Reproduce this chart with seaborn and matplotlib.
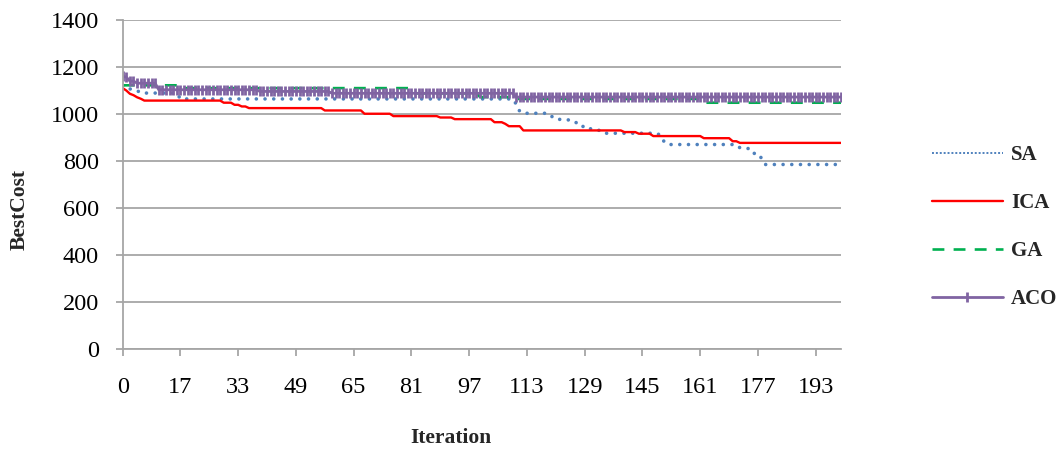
import numpy as np
import pandas as pd
import matplotlib
matplotlib.use("Agg")
import matplotlib.pyplot as plt
import seaborn as sns

# ---------------- data ----------------
iterations = list(range(200))
tick_positions = [0, 16, 32, 48, 64, 80, 96, 112, 128, 144, 160, 176, 192]
tick_labels = ["0", "17", "33", "49", "65", "81", "97", "113", "129", "145", "161", "177", "193"]
y_ticks = [0, 200, 400, 600, 800, 1000, 1200, 1400]

sa = ([1120] + [1107] * 2 + [1100] * 2 + [1089] * 11 + [1064] * 93 + [1043] + [1011]
      + [1003] * 7 + [989] * 2 + [977] * 4 + [972] * 2 + [958] * 2 + [937] * 4 + [930] * 2
      + [918] * 15 + [908] + [882] + [870] * 20 + [856] * 2 + [853] * 2 + [832] * 2 + [811]
      + [785] * 22)

ica = ([1110, 1100, 1086, 1080, 1071, 1065] + [1057] * 22 + [1048] * 3 + [1039] * 2
       + [1032] * 2 + [1025] * 21 + [1015] * 11 + [1001] * 8 + [991] * 13 + [985] * 4
       + [978] * 11 + [965] * 3 + [958] + [948] * 4 + [930] * 28 + [923] * 4 + [916] * 4
       + [906] * 14 + [897] * 8 + [884] * 2 + [877] * 29)

ga = ([1122] * 17 + [1110] * 64 + [1088] * 18 + [1072] * 10 + [1064] * 52 + [1048] * 39)

aco = ([1160, 1157] + [1140] * 2 + [1131] * 6 + [1103] * 28 + [1096] * 20 + [1088] * 51
       + [1072] * 91)

series_names = ["SA", "ICA", "GA", "ACO"]
series_values = [sa, ica, ga, aco]
for v in series_values:
    assert len(v) == len(iterations)

# ---------------- styling ----------------
sns.set_theme(style="white")
plt.rcParams["font.family"] = ["Liberation Serif", "DejaVu Serif"]

colors = {"SA": "#4f81bd", "ICA": "#ff0000", "GA": "#00b050", "ACO": "#8064a2"}
grid_color = "#a6a6a6"

fig = plt.figure(figsize=(10.62, 4.51), dpi=100)
ax = fig.add_axes([0.1155, 0.2262, 0.6764, 0.7295])

for name, vals in zip(series_names, series_values):
    df = pd.DataFrame({"Iteration": iterations, "BestCost": vals})
    kw = dict(color=colors[name], label=name, ax=ax)
    if name == "SA":
        sns.lineplot(data=df, x="Iteration", y="BestCost", linewidth=2.6,
                     linestyle=(0, (0.01, 2.4)), **kw)
        ax.lines[-1].set_dash_capstyle("round")
    elif name == "ICA":
        sns.lineplot(data=df, x="Iteration", y="BestCost", linewidth=1.7, **kw)
    elif name == "GA":
        sns.lineplot(data=df, x="Iteration", y="BestCost", linewidth=1.9,
                     linestyle=(0, (4.5, 3.5)), **kw)
    else:
        sns.lineplot(data=df, x="Iteration", y="BestCost", linewidth=2.0,
                     marker="|", markersize=6.5, markeredgewidth=2.0,
                     markeredgecolor=colors[name], **kw)

ax.set_xlim(0, 199)
ax.set_ylim(0, 1400)
ax.set_yticks(y_ticks)
ax.set_yticklabels([str(t) for t in y_ticks])
ax.set_xticks(tick_positions)
ax.set_xticklabels(tick_labels)

ax.yaxis.grid(True, color=grid_color, linewidth=1.3)
ax.xaxis.grid(False)
ax.set_axisbelow(True)
for s in ["top", "right"]:
    ax.spines[s].set_visible(False)
for s in ["left", "bottom"]:
    ax.spines[s].set_color(grid_color)
    ax.spines[s].set_linewidth(1.3)

ax.tick_params(axis="y", which="major", left=True, length=5, width=1.3, color=grid_color,
               pad=12, labelsize=17.5, labelcolor="black")
ax.tick_params(axis="x", which="major", bottom=True, length=5, width=1.3, color=grid_color,
               pad=15, labelsize=17.5, labelcolor="black")

ax.set_xlabel("Iteration", fontsize=15.5, fontweight="bold")
ax.set_ylabel("BestCost", fontsize=15.5, fontweight="bold")
ax.xaxis.set_label_coords(0.457, -0.27)
ax.yaxis.set_label_coords(-0.143, 0.4225)
ax.xaxis.label.set_verticalalignment("center")
ax.yaxis.label.set_verticalalignment("center")

handles, labels = ax.get_legend_handles_labels()
leg = ax.legend(handles, labels, loc="center left", bbox_to_anchor=(0.8776, 0.4967),
                bbox_transform=fig.transFigure, frameon=False, borderpad=0,
                borderaxespad=0, handlelength=3.4, handletextpad=0.4,
                labelspacing=1.35, prop={"family": "Liberation Serif", "weight": "bold", "size": 15})
for line in leg.get_lines():
    if line.get_label() == "SA":
        line.set_linewidth(1.4)
        line.set_linestyle((0, (1, 1)))
        line.set_dash_capstyle("butt")

fig.savefig("out.png", dpi=100)
